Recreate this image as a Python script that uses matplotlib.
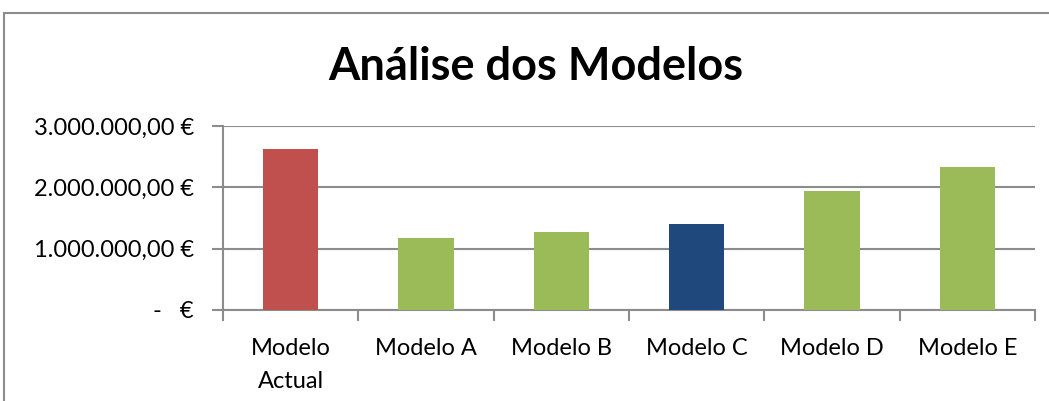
import matplotlib.pyplot as plt
from matplotlib.patches import Rectangle
from matplotlib.ticker import FuncFormatter, FixedLocator

categories = ["Modelo\nActual", "Modelo A", "Modelo B", "Modelo C", "Modelo D", "Modelo E"]
values = [2630000, 1170000, 1270000, 1400000, 1940000, 2330000]
colors = ["#C0504D", "#9BBB59", "#9BBB59", "#1F497D", "#9BBB59", "#9BBB59"]
yticks = [0, 1000000, 2000000, 3000000]

plt.rcParams["font.family"] = ["Lato", "DejaVu Sans"]
GRID = "#8c8c8c"


def euro(v, pos=None):
    if v == 0:
        return "-   €"
    s = f"{v:,.2f}".replace(",", " ").replace(".", ",").replace(" ", ".")
    return s + " €"


fig = plt.figure(figsize=(10.49, 4.01), dpi=100)
ax = fig.add_axes([0.2126, 0.227, 0.774, 0.4589])

x = range(len(categories))
ax.bar(x, values, width=0.41, color=colors, zorder=3)

ax.set_xlim(-0.5, len(categories) - 0.5)
ax.set_ylim(0, 3000000)
ax.set_yticks(yticks)
ax.yaxis.set_major_formatter(FuncFormatter(euro))
ax.grid(axis="y", color=GRID, linewidth=1.5, zorder=0)

ax.set_xticks([i for i in x])
ax.set_xticklabels(categories, fontsize=17, linespacing=1.7)
ax.tick_params(axis="x", length=0, pad=20)
ax.xaxis.set_minor_locator(FixedLocator([i - 0.5 for i in range(len(categories) + 1)]))
ax.tick_params(axis="x", which="minor", length=8, width=1.5, color=GRID)
ax.tick_params(axis="y", length=8, width=1.5, color=GRID, labelsize=17, pad=13)

for side in ["top", "right"]:
    ax.spines[side].set_visible(False)
for side in ["left", "bottom"]:
    ax.spines[side].set_color(GRID)
    ax.spines[side].set_linewidth(1.5)

fig.text(0.511, 0.833, "Análise dos Modelos", ha="center", va="center",
         fontsize=32.5, fontweight="bold")

fig.patches.append(Rectangle((4 / 1049, -0.1), 1.2, 0.9676 + 0.1, transform=fig.transFigure,
                             fill=False, edgecolor="#8c8c8c", linewidth=1.5))

plt.savefig("out.png", dpi=100)
